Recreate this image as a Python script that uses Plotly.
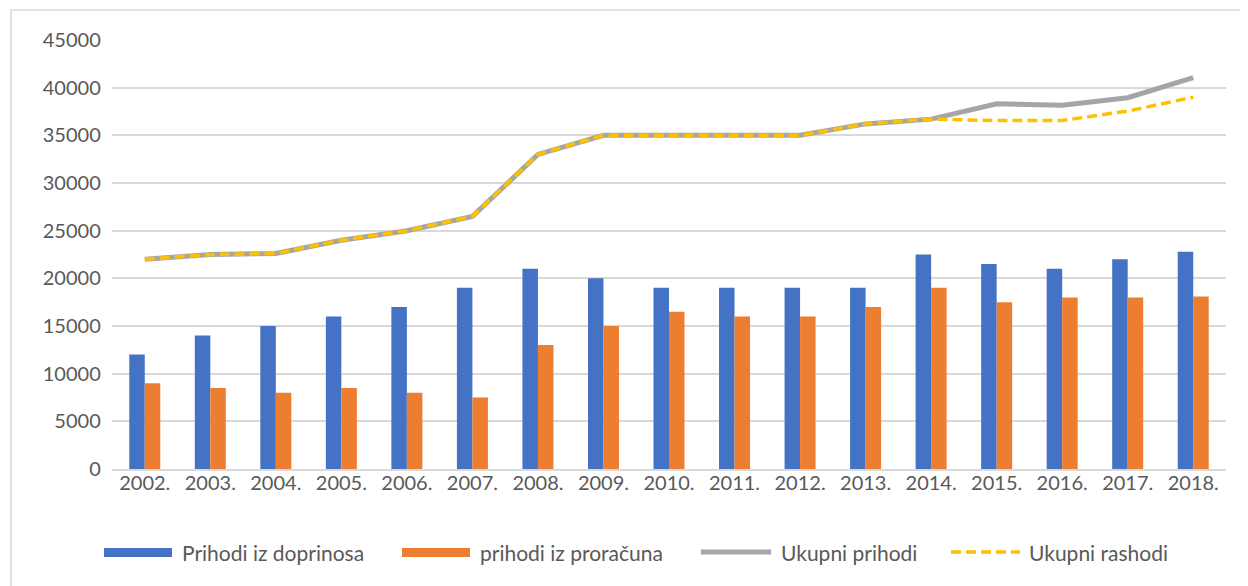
import plotly.graph_objects as go

years = ["2002.", "2003.", "2004.", "2005.", "2006.", "2007.", "2008.", "2009.", "2010.",
         "2011.", "2012.", "2013.", "2014.", "2015.", "2016.", "2017.", "2018."]
prihodi_doprinosa = [12000, 14000, 15000, 16000, 17000, 19000, 21000, 20000, 19000,
                     19000, 19000, 19000, 22500, 21500, 21000, 22000, 22800]
prihodi_proracuna = [9000, 8500, 8000, 8500, 8000, 7500, 13000, 15000, 16500,
                     16000, 16000, 17000, 19000, 17500, 18000, 18000, 18100]
ukupni_prihodi = [22000, 22500, 22600, 24000, 25000, 26500, 33000, 35000, 35000,
                  35000, 35000, 36200, 36700, 38300, 38150, 38950, 41050]
ukupni_rashodi = [22000, 22500, 22600, 24000, 25000, 26500, 33000, 35000, 35000,
                  35000, 35000, 36200, 36700, 36550, 36550, 37550, 39000]

font = "Lato, Calibri, sans-serif"
text_color = "#595959"
grid_color = "#D9D9D9"

# page pixels -> paper coordinates (plot area spans x 112..1226, y 40..469 on the page)
def px(x):
    return (x - 112) / 1114


def py(y):
    return (469 - y) / 429


fig = go.Figure()
fig.add_trace(go.Bar(x=years, y=prihodi_doprinosa, name="Prihodi iz doprinosa",
                     marker=dict(color="#4472C4", line=dict(width=0))))
fig.add_trace(go.Bar(x=years, y=prihodi_proracuna, name="prihodi iz proračuna",
                     marker=dict(color="#ED7D31", line=dict(width=0))))
fig.add_trace(go.Scatter(x=years, y=ukupni_prihodi, name="Ukupni prihodi", mode="lines",
                         line=dict(color="#A5A5A5", width=5)))
fig.add_trace(go.Scatter(x=years, y=ukupni_rashodi, name="Ukupni rashodi", mode="lines",
                         line=dict(color="#FFC000", width=3.5, dash="10px,5px")))

# legend drawn by hand so the swatches look like the original (wide bars)
legend_y = 552
shapes = [
    dict(type="rect", xref="paper", yref="paper", x0=px(11), x1=px(1300),
         y0=py(620), y1=py(10), line=dict(color=grid_color, width=1.5), layer="below"),
    dict(type="rect", xref="paper", yref="paper", x0=px(104), x1=px(172),
         y0=py(557), y1=py(548), fillcolor="#4472C4", line=dict(width=0)),
    dict(type="rect", xref="paper", yref="paper", x0=px(402), x1=px(470),
         y0=py(557), y1=py(548), fillcolor="#ED7D31", line=dict(width=0)),
    dict(type="line", xref="paper", yref="paper", x0=px(701), x1=px(771),
         y0=py(legend_y), y1=py(legend_y), line=dict(color="#A5A5A5", width=5)),
    dict(type="line", xref="paper", yref="paper", x0=px(951), x1=px(1020),
         y0=py(legend_y), y1=py(legend_y),
         line=dict(color="#FFC000", width=3.5, dash="10px,5px")),
]
legend_items = [(180, "Prihodi iz doprinosa"), (478, "prihodi iz proračuna"),
                (779, "Ukupni prihodi"), (1027, "Ukupni rashodi")]
annotations = [
    dict(xref="paper", yref="paper", x=px(x), y=py(legend_y), text=label,
         showarrow=False, xanchor="left", yanchor="middle",
         font=dict(family=font, size=21, color=text_color))
    for x, label in legend_items
]

fig.update_layout(
    width=1240, height=578,
    margin=dict(l=104, r=22, t=32, b=117),
    plot_bgcolor="white", paper_bgcolor="white",
    barmode="group", bargap=0.527, bargroupgap=0,
    font=dict(family=font, size=20, color=text_color),
    showlegend=False,
    xaxis=dict(showgrid=False, showline=True, linecolor=grid_color, linewidth=1.5,
               ticks="", tickfont=dict(size=20), ticklabelstandoff=-5),
    yaxis=dict(range=[0, 45000], dtick=5000, showgrid=True, gridcolor=grid_color,
               gridwidth=1.5, zeroline=False, showline=False, ticks="",
               tickformat="d", ticksuffix="  ", tickfont=dict(size=20)),
    shapes=shapes,
    annotations=annotations,
)

fig.write_html("out.html")
